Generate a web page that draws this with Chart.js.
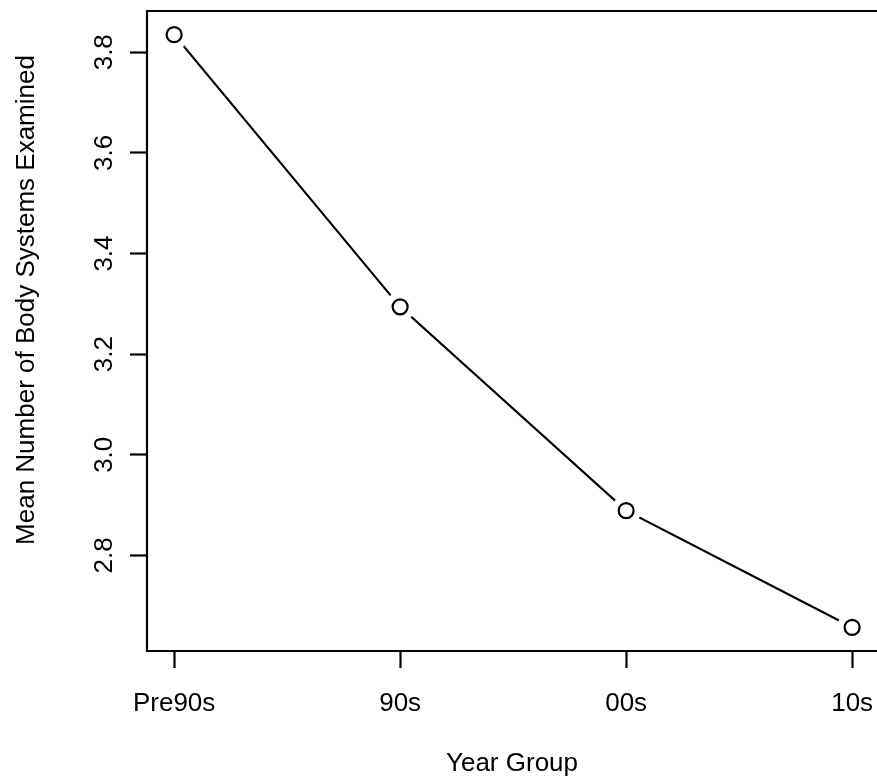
<!DOCTYPE html>
<html>
<head>
<meta charset="utf-8">
<script src="https://cdn.jsdelivr.net/npm/chart.js@4.4.1/dist/chart.umd.min.js"></script>
<style>
	html, body { margin: 0; padding: 0; background: #fff; overflow: hidden; }
	#wrap { width: 877px; height: 779px; }
</style>
</head>
<body>
<div id="wrap"><canvas id="chart" width="877" height="779"></canvas></div>
<script>
const categories = ["Pre90s", "90s", "00s", "10s"];
const meanSystems = [3.835, 3.294, 2.889, 2.657];
const yTickValues = [2.8, 3.0, 3.2, 3.4, 3.6, 3.8];
const xLabel = "Year Group";
const yLabel = "Mean Number of Body Systems Examined";

const FONT = "'Liberation Sans', Arial, Helvetica, sans-serif";

const points = meanSystems.map(function(v, i) {
	return {x: i + 1, y: v};
});

function noScalePadding(scale) {
	scale.paddingLeft = 0;
	scale.paddingRight = 0;
	scale.paddingTop = 0;
	scale.paddingBottom = 0;
}

// R-style box around the plot region (right side falls off the canvas)
const boxPlugin = {
	id: "box",
	afterDraw(chart) {
		const ctx = chart.ctx;
		const a = chart.chartArea;
		ctx.save();
		ctx.strokeStyle = "#000";
		ctx.lineWidth = 2.2;
		ctx.beginPath();
		ctx.moveTo(a.right + 4, a.top);
		ctx.lineTo(a.left, a.top);
		ctx.lineTo(a.left, a.bottom);
		ctx.lineTo(a.right + 4, a.bottom);
		ctx.stroke();

		// y axis title
		ctx.fillStyle = "#000";
		ctx.font = "26px " + FONT;
		ctx.textAlign = "center";
		ctx.textBaseline = "middle";
		ctx.translate(27, 300);
		ctx.rotate(-Math.PI / 2);
		ctx.fillText(yLabel, 0, 0);
		ctx.restore();
	}
};

new Chart(document.getElementById("chart").getContext("2d"), {
	type: "line",
	data: {
		datasets: [
			{
				// open circles, drawn on top
				data: points,
				showLine: false,
				pointRadius: 7.5,
				pointBorderWidth: 2.2,
				pointBorderColor: "#000",
				pointBackgroundColor: "#fff"
			},
			{
				// connecting line, with white discs leaving gaps round the points
				data: points,
				borderColor: "#000",
				borderWidth: 2.2,
				tension: 0,
				pointRadius: 15,
				pointBorderWidth: 0,
				pointBackgroundColor: "#fff"
			}
		]
	},
	options: {
		responsive: false,
		animation: false,
		events: [],
		layout: { autoPadding: false, padding: { top: 11, left: 0, right: 0, bottom: 0 } },
		plugins: { legend: { display: false }, tooltip: { enabled: false } },
		scales: {
			x: {
				type: "linear",
				min: 0.88,
				max: 4.11,
				afterBuildTicks(scale) {
					scale.ticks = categories.map(function(c, i) { return {value: i + 1}; });
				},
				afterFit(scale) {
					scale.height = 128;
					noScalePadding(scale);
				},
				grid: {
					display: true,
					drawOnChartArea: false,
					tickLength: 17,
					tickWidth: 2.2,
					tickColor: "#000"
				},
				border: { display: false },
				ticks: {
					color: "#000",
					font: { size: 26, family: FONT },
					padding: 20,
					maxRotation: 0,
					autoSkip: false,
					callback(v) { return categories[v - 1]; }
				},
				title: {
					display: true,
					text: xLabel,
					color: "#000",
					font: { size: 26, family: FONT },
					padding: { top: 0, bottom: 0 }
				}
			},
			y: {
				type: "linear",
				min: 2.610,
				max: 3.882,
				afterBuildTicks(scale) {
					scale.ticks = yTickValues.map(function(v) { return {value: v}; });
				},
				afterFit(scale) {
					scale.width = 147;
					noScalePadding(scale);
				},
				grid: {
					display: true,
					drawOnChartArea: false,
					tickLength: 17,
					tickWidth: 2.2,
					tickColor: "#000"
				},
				border: { display: false },
				ticks: {
					color: "#000",
					font: { size: 26, family: FONT },
					minRotation: 90,
					maxRotation: 90,
					crossAlign: "center",
					padding: 7,
					callback(v) { return v.toFixed(1); }
				}
			}
		}
	},
	plugins: [boxPlugin]
});
</script>
</body>
</html>
